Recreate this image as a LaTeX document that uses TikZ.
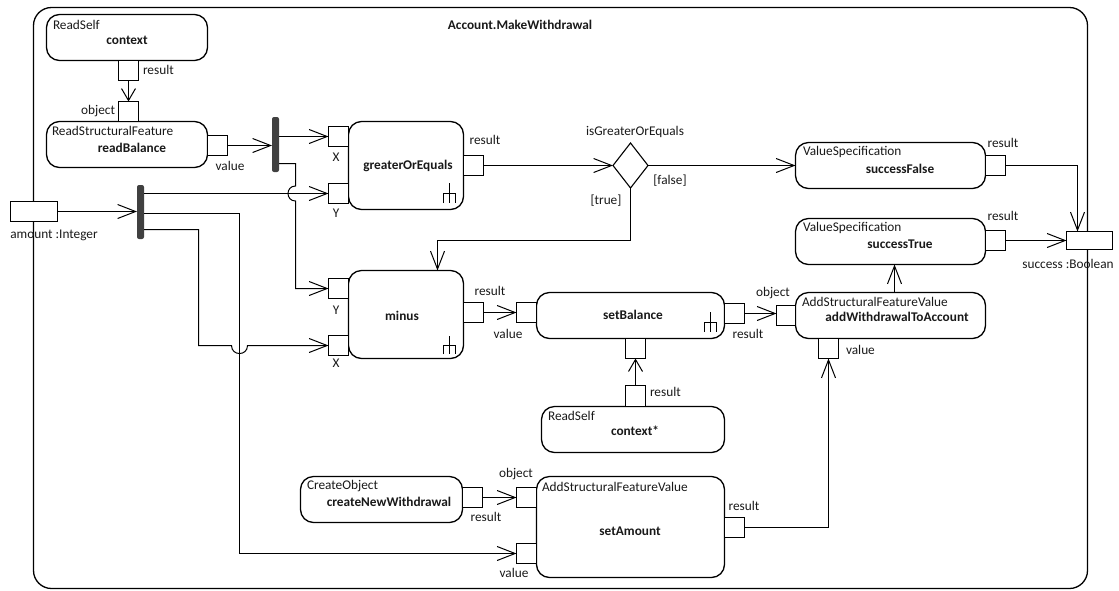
\documentclass[tikz,border=0pt]{standalone}
\usepackage{fontspec}
\setmainfont{Carlito}
\usetikzlibrary{arrows.meta,shapes.geometric}
\definecolor{barfill}{RGB}{64,64,64}
\definecolor{ink}{RGB}{25,25,25}
\begin{document}
\begin{tikzpicture}[x=1pt,y=-1pt,
  every node/.style={inner sep=0pt, outer sep=0pt},
  action/.style={draw, line width=1.3pt, rounded corners=13pt},
  port/.style={draw, fill=white, line width=1pt, minimum width=20pt, minimum height=20pt},
  param/.style={draw, fill=white, line width=1pt},
  forkbar/.style={fill=barfill, rounded corners=2pt},
  decision/.style={draw, diamond, line width=1.1pt, minimum width=35pt, minimum height=45pt},
  txt/.style={font=\fontsize{13.3}{15}\selectfont, text=ink},
  kind/.style={txt, anchor=west},
  nametxt/.style={font=\fontsize{13.3}{15}\selectfont\bfseries, text=ink},
  flow/.style={line width=1pt, -{Straight Barb[length=18pt,width=14pt]}},
  shortflow/.style={line width=1pt, -{Straight Barb[length=12pt,width=14pt]}},
  rake/.style={line width=1pt},
]
\useasboundingbox (0,0) rectangle (1119,590);

% activity frame
\node[action, rounded corners=18pt, minimum width=1054pt, minimum height=581pt] (frame) at (560.5,298) {};
\node[nametxt] (tTitle) at (520,25) {Account.MakeWithdrawal};

% actions
\node[action, minimum width=161pt, minimum height=46pt] (ctx) at (127,37.5) {};
\node[action, minimum width=161pt, minimum height=46pt] (rb) at (127,144.5) {};
\node[action, minimum width=115pt, minimum height=88pt] (goe) at (406,165.5) {};
\node[action, minimum width=115pt, minimum height=88pt] (minus) at (406,314.5) {};
\node[action, minimum width=188pt, minimum height=46pt] (sb) at (630.5,315.5) {};
\node[action, minimum width=183pt, minimum height=46pt] (ctx2) at (633,429.5) {};
\node[action, minimum width=190pt, minimum height=46pt] (sf) at (890.5,165.5) {};
\node[action, minimum width=190pt, minimum height=46pt] (st) at (890.5,241.5) {};
\node[action, minimum width=190pt, minimum height=46pt] (awa) at (890.5,315.5) {};
\node[action, minimum width=162pt, minimum height=46pt] (cnw) at (381.5,499.5) {};
\node[action, minimum width=188pt, minimum height=101pt] (sa) at (630.5,527) {};

% decision and fork bars
\node[decision] (dec) at (630.5,165.5) {};
\node[forkbar, minimum width=7pt, minimum height=55pt] (bar1) at (275.5,144.5) {};
\node[forkbar, minimum width=7pt, minimum height=54pt] (bar2) at (140.5,212) {};

% activity parameters
\node[param, minimum width=47pt, minimum height=20pt] (amount) at (34,211.5) {};
\node[param, minimum width=46pt, minimum height=18pt] (success) at (1089.5,240.5) {};

% pins
\node[port] (ctxR) at (128.5,70.5) {};
\node[port] (rbO) at (128.5,111.5) {};
\node[port] (rbV) at (217.5,145.5) {};
\node[port] (goeX) at (338.5,136.5) {};
\node[port] (goeY) at (338.5,193.5) {};
\node[port] (goeR) at (473.5,165.5) {};
\node[port] (minusY) at (338.5,288.5) {};
\node[port] (minusX) at (338.5,345.5) {};
\node[port] (minusR) at (473.5,312.5) {};
\node[port] (sbV) at (526.5,312.5) {};
\node[port] (sbS) at (635.5,348.5) {};
\node[port] (sbR) at (734.5,313.5) {};
\node[port, minimum height=21pt] (ctx2R) at (635.5,396) {};
\node[port, minimum width=19pt] (awaO) at (786,315.5) {};
\node[port] (awaV) at (828.5,348.5) {};
\node[port] (sfR) at (995.5,165.5) {};
\node[port] (stR) at (995.5,240.5) {};
\node[port] (saO) at (526.5,497.5) {};
\node[port] (saV) at (526.5,553.5) {};
\node[port] (saR) at (734.5,527.5) {};
\node[port] (cnwR) at (472.5,497.5) {};

% streaming markers (rakes)
\draw[rake] (449.5,183) -- (449.5,203) (443.5,203) -- (443.5,193.5) -- (455.5,193.5) -- (455.5,203);
\draw[rake] (449.5,336) -- (449.5,354) (443.5,354) -- (443.5,345.5) -- (455.5,345.5) -- (455.5,354);
\draw[rake] (710.5,312) -- (710.5,332) (704.5,332) -- (704.5,322.5) -- (716.5,322.5) -- (716.5,332);

% flows
\draw[shortflow] (ctxR.south) -- (rbO.north);
\draw[flow] (rbV.east) -- (rbV.east -| bar1.west);
\draw[flow] (goeX.west -| bar1.east) -- (goeX.west);
\draw[flow] (bar1.east |- 0,163.5) -- (295.5,163.5) -- (295.5,186)
  .. controls (285.5,186) and (285.5,201) .. (295.5,201) -- (295.5,0 |- minusY) -- (minusY.west);
\draw[flow] (amount.east) -- (amount.east -| bar2.west);
\draw[flow] (bar2.east |- goeY) -- (goeY.west);
\draw[flow] (bar2.east |- 0,213.5) -- (239.5,213.5) -- (239.5,0 |- saV) -- (saV.west);
\draw[flow] (bar2.east |- 0,229.5) -- (198.5,229.5) -- (198.5,0 |- minusX) -- (231.5,0 |- minusX)
  .. controls (231.5,356.2) and (247.5,356.2) .. (247.5,0 |- minusX) -- (minusX.west);
\draw[flow] (goeR.east) -- (dec.west);
\draw[flow] (dec.east) -- (sf.west);
\draw[flow] (dec.south) -- (630.5,240.5) -- (437.5,240.5) -- (437.5,0 |- minus.north);
\draw[flow] (minusR.east) -- (sbV.west);
\draw[shortflow] (ctx2R.north) -- (sbS.south);
\draw[flow] (sbR.east) -- (sbR.east -| awaO.west);
\draw[flow] (894.5,0 |- awa.north) -- (894.5,0 |- st.south);
\draw[flow] (saR.east) -- (awaV.south |- saR.east) -- (awaV.south);
\draw[flow] (cnwR.east) -- (saO.west);
\draw[flow] (sfR.east) -- (1077.5,0 |- sfR.east) -- (1077.5,0 |- success.north);
\draw[flow] (stR.east) -- (success.west);

% texts
\node[kind] (tCtxK) at (53,25) {ReadSelf};
\node[nametxt] (tCtxN) at (127,40) {context};
\node[txt, anchor=west] (tCtxR) at (143,70) {result};
\node[txt, anchor=east] (tRbO) at (115,111) {object};
\node[kind] (tRbK) at (52,131) {ReadStructuralFeature};
\node[nametxt] (tRbN) at (132,148) {readBalance};
\node[txt] (tRbV) at (230,166) {value};
\node[txt] (tGoeX) at (336,157) {X};
\node[txt] (tGoeY) at (336,213) {Y};
\node[nametxt] (tGoeN) at (408,166) {greaterOrEquals};
\node[txt] (tGoeR) at (485,140) {result};
\node[txt] (tDec) at (635,132) {isGreaterOrEquals};
\node[txt] (tFalse) at (670,181) {[false]};
\node[txt] (tTrue) at (606,201) {[true]};
\node[kind] (tSfK) at (803,152) {ValueSpecification};
\node[nametxt] (tSfN) at (900,169) {successFalse};
\node[txt] (tSfR) at (1003,143) {result};
\node[kind] (tStK) at (803,228) {ValueSpecification};
\node[nametxt] (tStN) at (900,244) {successTrue};
\node[txt] (tStR) at (1003,216) {result};
\node[txt] (tSuccess) at (1068,264) {success :Boolean};
\node[txt] (tAmount) at (54,235) {amount :Integer};
\node[txt] (tMinusY) at (336,310) {Y};
\node[txt] (tMinusX) at (336,363) {X};
\node[nametxt] (tMinusN) at (402,316) {minus};
\node[txt] (tMinusR) at (490,291) {result};
\node[txt] (tSbV) at (508,334) {value};
\node[nametxt] (tSbN) at (633,315) {setBalance};
\node[txt] (tSbR) at (748,334) {result};
\node[txt, anchor=west] (tCtx2R) at (650,392) {result};
\node[kind] (tCtx2K) at (548,416) {ReadSelf};
\node[nametxt] (tCtx2N) at (635,431) {context*};
\node[txt] (tAwaO) at (773,293) {object};
\node[kind] (tAwaK) at (802,302) {AddStructuralFeatureValue};
\node[nametxt] (tAwaN) at (897,317) {addWithdrawalToAccount};
\node[txt, anchor=west] (tAwaV) at (846,350) {value};
\node[kind] (tCnwK) at (307,486) {CreateObject};
\node[nametxt] (tCnwN) at (389,502) {createNewWithdrawal};
\node[txt] (tCnwR) at (486,517) {result};
\node[txt] (tSaO) at (516,474) {object};
\node[txt] (tSaV) at (514,573) {value};
\node[txt] (tSaR) at (744,506) {result};
\node[kind] (tSaK) at (542,487) {AddStructuralFeatureValue};
\node[nametxt] (tSaN) at (630,531) {setAmount};
\end{tikzpicture}
\end{document}
